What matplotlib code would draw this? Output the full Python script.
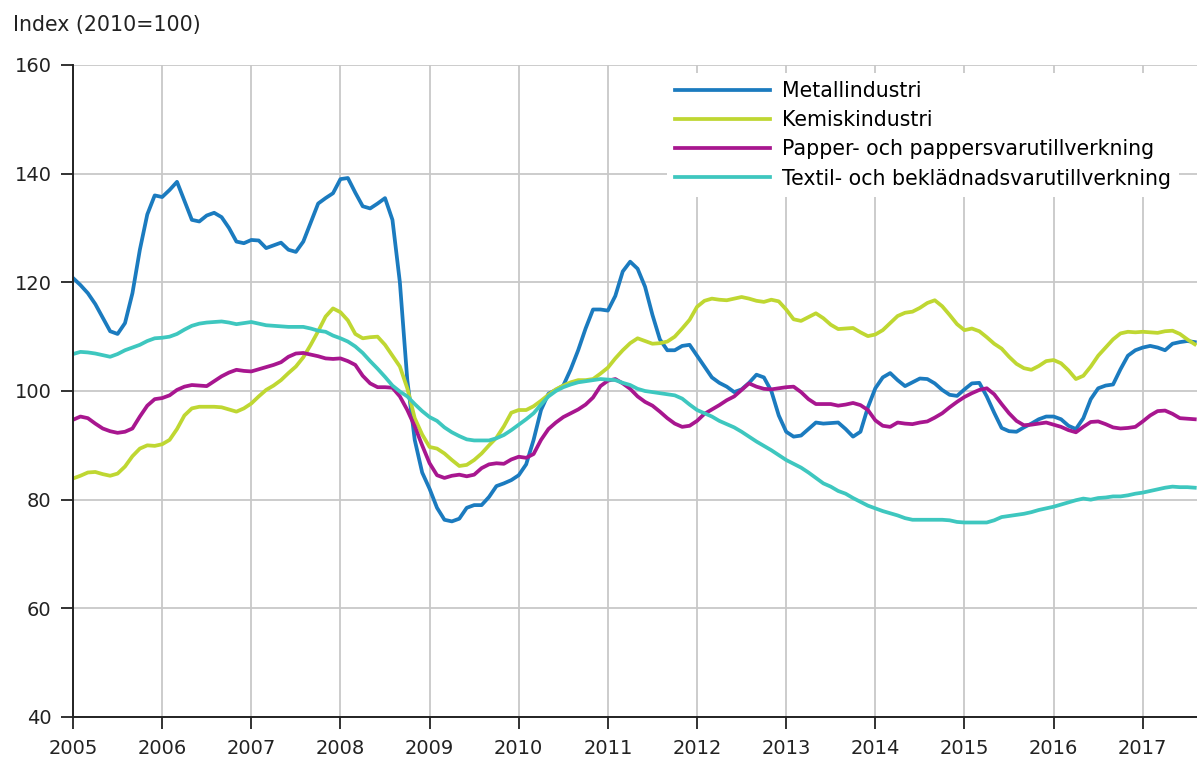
import matplotlib
matplotlib.use("Agg")
from matplotlib import pyplot as plt
import numpy as np

# monthly index values, Jan 2005 .. Aug 2017 (2010=100)
years = [str(y) for y in range(2005, 2018)]

metall = [
    120.8, 119.5, 118.0, 116.0, 113.5, 111.0, 110.5, 112.5, 118.0, 126.0, 132.5, 136.0,
    135.7, 137.0, 138.5, 135.0, 131.5, 131.2, 132.3, 132.8, 132.0, 130.0, 127.5, 127.2,
    127.8, 127.7, 126.3, 126.8, 127.3, 126.0, 125.6, 127.5, 131.0, 134.5, 135.5, 136.4,
    139.0, 139.2, 136.5, 134.0, 133.6, 134.5, 135.5, 131.5, 120.0, 102.0, 91.0, 85.0,
    82.0, 78.5, 76.3, 76.0, 76.5, 78.5, 79.0, 79.0, 80.5, 82.5, 83.0, 83.6,
    84.5, 86.5, 91.0, 96.5, 99.5, 100.2, 101.0, 104.0, 107.5, 111.5, 115.0, 115.0,
    114.8, 117.5, 122.0, 123.8, 122.5, 119.2, 114.0, 109.5, 107.5, 107.5, 108.3, 108.5,
    106.5, 104.5, 102.5, 101.5, 100.8, 99.8, 100.3, 101.5, 103.0, 102.5, 100.0, 95.5,
    92.5, 91.6, 91.8, 93.0, 94.2, 94.0, 94.1, 94.2, 93.0, 91.6, 92.5, 97.0,
    100.5, 102.5, 103.3, 102.0, 100.9, 101.6, 102.3, 102.2, 101.4, 100.2, 99.3, 99.1,
    100.3, 101.4, 101.5, 99.0, 96.0, 93.2, 92.6, 92.5, 93.3, 94.0, 94.8, 95.3,
    95.3, 94.8, 93.6, 93.0, 95.0, 98.5, 100.5, 101.0, 101.2, 104.0, 106.5, 107.5,
    108.0, 108.3, 108.0, 107.5, 108.7, 109.0, 109.2, 109.0,
]

kemi = [
    83.9, 84.4, 85.0, 85.1, 84.7, 84.4, 84.8, 86.1, 88.0, 89.4, 90.0, 89.9,
    90.2, 91.0, 93.0, 95.5, 96.8, 97.1, 97.1, 97.1, 97.0, 96.6, 96.2, 96.8,
    97.7, 99.0, 100.2, 101.0, 102.0, 103.3, 104.5, 106.2, 108.5, 111.0, 113.7, 115.2,
    114.5, 113.0, 110.5, 109.7, 109.9, 110.0, 108.5, 106.5, 104.5, 100.5, 95.0, 92.0,
    89.7, 89.4, 88.5, 87.3, 86.2, 86.4, 87.3, 88.5, 90.0, 91.4, 93.5, 96.0,
    96.5, 96.5, 97.2, 98.2, 99.3, 100.3, 101.0, 101.6, 102.0, 102.0, 102.2, 103.2,
    104.3, 106.0, 107.5, 108.8, 109.7, 109.2, 108.7, 108.8, 109.1, 110.0, 111.5, 113.1,
    115.5, 116.6, 117.0, 116.8, 116.7, 117.0, 117.3, 117.0, 116.6, 116.4, 116.8, 116.5,
    115.0, 113.2, 112.9, 113.6, 114.3, 113.4, 112.2, 111.4, 111.5, 111.6, 110.8, 110.1,
    110.4, 111.2, 112.5, 113.8, 114.4, 114.6, 115.3, 116.2, 116.7, 115.6, 114.0, 112.3,
    111.2, 111.5, 111.0, 109.9, 108.7, 107.8, 106.3, 105.0, 104.2, 103.9, 104.6, 105.5,
    105.7, 105.1, 103.8, 102.2, 102.8, 104.5, 106.5, 108.0, 109.5, 110.6, 110.9, 110.8,
    110.9, 110.8, 110.7, 111.0, 111.1, 110.5, 109.5, 108.6,
]

papper = [
    94.7, 95.3, 95.0, 94.0, 93.1, 92.6, 92.3, 92.5, 93.1, 95.3, 97.3, 98.5,
    98.7, 99.2, 100.2, 100.8, 101.1, 101.0, 100.9, 101.8, 102.7, 103.4, 103.9, 103.7,
    103.6, 104.0, 104.4, 104.8, 105.3, 106.3, 106.9, 107.0, 106.7, 106.4, 106.0, 105.9,
    106.0, 105.5, 104.8, 102.8, 101.4, 100.7, 100.7, 100.6, 99.0, 96.5, 93.5, 90.0,
    86.7, 84.5, 84.0, 84.4, 84.6, 84.3, 84.6, 85.8, 86.5, 86.7, 86.6, 87.4,
    87.9, 87.7, 88.4, 91.0, 93.0, 94.2, 95.2, 95.9, 96.6, 97.5, 98.8, 100.9,
    101.9, 102.2, 101.4, 100.4, 99.0, 98.0, 97.3, 96.2, 95.0, 94.0, 93.4, 93.6,
    94.5, 95.8, 96.6, 97.4, 98.3, 99.0, 100.2, 101.4, 100.8, 100.4, 100.3, 100.5,
    100.7, 100.8, 99.8, 98.5, 97.6, 97.6, 97.6, 97.3, 97.5, 97.8, 97.4, 96.5,
    94.6, 93.6, 93.4, 94.2, 94.0, 93.9, 94.2, 94.4, 95.1, 95.9, 97.0, 98.0,
    98.9, 99.6, 100.2, 100.5, 99.4, 97.6, 95.9, 94.5, 93.7, 93.8, 94.0, 94.2,
    93.8, 93.4, 92.8, 92.4, 93.4, 94.3, 94.4, 93.9, 93.3, 93.1, 93.2, 93.4,
    94.4, 95.5, 96.3, 96.4, 95.8, 95.0, 94.9, 94.8,
]

textil = [
    106.8, 107.2, 107.1, 106.9, 106.6, 106.3, 106.8, 107.5, 108.0, 108.5, 109.2, 109.7,
    109.8, 110.0, 110.5, 111.3, 112.0, 112.4, 112.6, 112.7, 112.8, 112.6, 112.3, 112.5,
    112.7, 112.4, 112.1, 112.0, 111.9, 111.8, 111.8, 111.8, 111.5, 111.1, 110.9, 110.2,
    109.7, 109.1, 108.2, 107.0, 105.5, 104.1, 102.6, 101.0, 99.9, 99.0, 97.6, 96.3,
    95.2, 94.5, 93.3, 92.4, 91.7, 91.1, 90.9, 90.9, 90.9, 91.3, 91.9, 92.8,
    93.8, 94.8, 95.9, 97.5, 99.0, 100.0, 100.7, 101.2, 101.6, 101.8, 102.0, 102.2,
    102.1, 102.0, 101.5, 101.1, 100.4, 100.0, 99.8, 99.6, 99.4, 99.2, 98.6, 97.5,
    96.5, 95.9, 95.3, 94.5, 93.9, 93.3, 92.5, 91.6, 90.7, 89.9, 89.1, 88.2,
    87.3, 86.6, 85.9, 85.0, 84.0, 83.0, 82.4, 81.6, 81.1, 80.3, 79.6, 78.9,
    78.4, 77.9, 77.5, 77.1, 76.6, 76.3, 76.3, 76.3, 76.3, 76.3, 76.2, 75.9,
    75.8, 75.8, 75.8, 75.8, 76.2, 76.8, 77.0, 77.2, 77.4, 77.7, 78.1, 78.4,
    78.7, 79.1, 79.5, 79.9, 80.2, 80.0, 80.3, 80.4, 80.6, 80.6, 80.8, 81.1,
    81.3, 81.6, 81.9, 82.2, 82.4, 82.3, 82.3, 82.2,
]

series = [
    ("Metallindustri", metall, "#1b7bbf"),
    ("Kemiskindustri", kemi, "#bfd732"),
    ("Papper- och pappersvarutillverkning", papper, "#a8168f"),
    ("Textil- och beklädnadsvarutillverkning", textil, "#3ec7bf"),
]

plt.rcParams['font.family'] = ['DejaVu Sans']
fs = 14       # tick labels
fs_txt = 14.8 # legend and axis title

fig = plt.figure(figsize=(11.97, 7.64), dpi=100)
ax = fig.add_axes([73 / 1197, 47 / 764, 1124 / 1197, 652 / 764])

months = np.arange(len(metall))
for name, vals, col in series:
    ax.plot(months, vals, color=col, lw=2.7, label=name, solid_joinstyle='round')

ax.set_xlim(0, 151.3)
ax.set_ylim(40, 160)
ax.set_xticks(np.arange(0, 12 * len(years), 12))
ax.set_xticklabels(years)
ax.set_yticks(np.arange(40, 161, 20))

ax.grid(True, color='#c8c8c8', lw=1.3)
ax.set_axisbelow(True)
for s in ['top', 'right']:
    ax.spines[s].set_visible(False)
for s in ['left', 'bottom']:
    ax.spines[s].set_linewidth(1.4)
    ax.spines[s].set_color('#222222')
ax.tick_params(direction='out', length=8.5, width=1.3, color='#222222',
               labelsize=fs, labelcolor='#222222')
ax.tick_params(axis='y', pad=7)
ax.tick_params(axis='x', pad=7)

leg = ax.legend(loc='upper left', bbox_to_anchor=(0.557, 0.905),
                bbox_transform=fig.transFigure, fontsize=fs_txt, frameon=True,
                fancybox=False, handlelength=4.6, handletextpad=0.62,
                labelspacing=0.45, borderpad=0.4, borderaxespad=0)
leg.get_frame().set_facecolor('white')
leg.get_frame().set_edgecolor('none')
leg.get_frame().set_alpha(1)

fig.text(13 / 1197, 1 - 25 / 764, "Index (2010=100)", fontsize=fs_txt,
         color='#222222', va='center', ha='left')

fig.savefig("out.png", dpi=100)
